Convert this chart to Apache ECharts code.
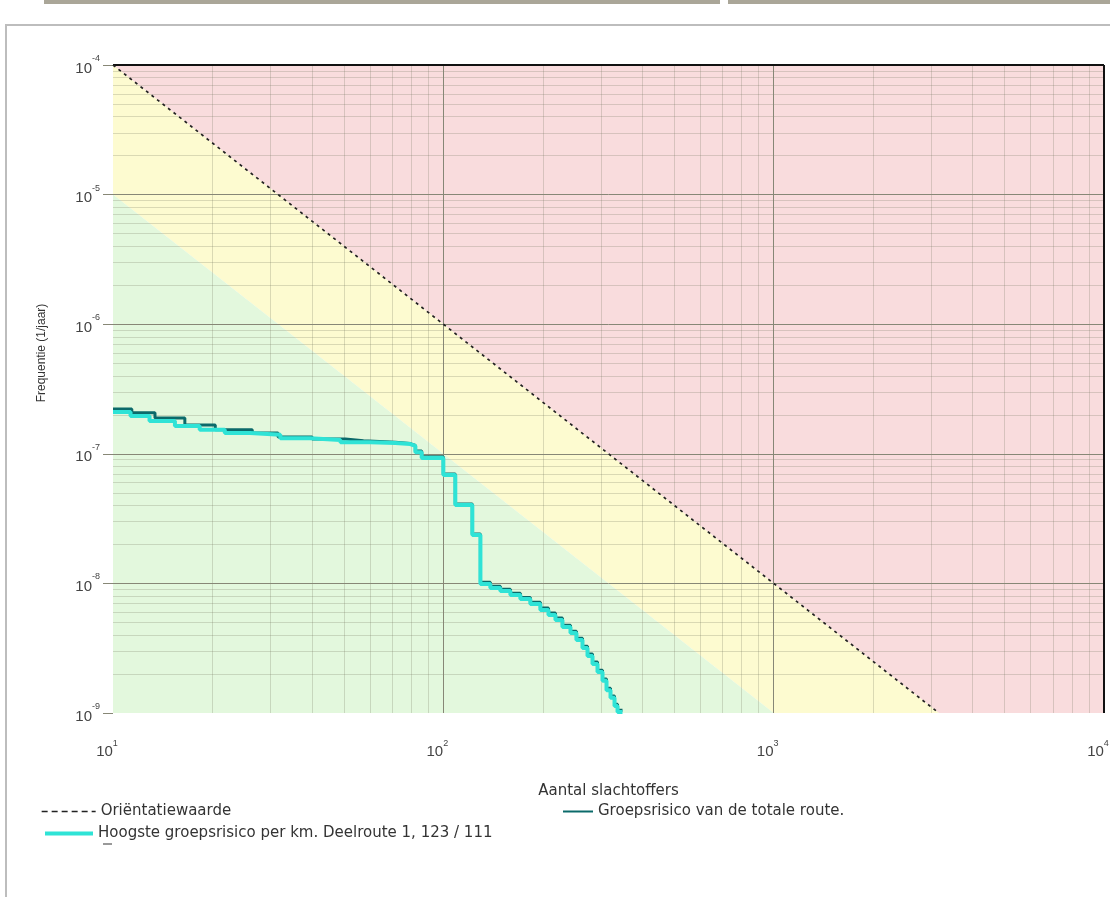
<!DOCTYPE html>
<html>
<head>
<meta charset="utf-8">
<script src="https://cdn.jsdelivr.net/npm/echarts@6/dist/echarts.min.js"></script>
<style>
html,body{margin:0;padding:0;background:#fff;}
#chart{width:1110px;height:897px;}
</style>
</head>
<body>
<div id="chart"></div>
<script>
// ---- data ----
const orientN = [10, 100, 1000, 3162.3];
const orientF = [1e-4, 1e-6, 1e-8, 1e-9];

const cyanN = [10, 11.3, 12.9, 15.4, 18.3, 21.8, 26.0, 32.1, 39.5, 48.8, 60.1, 71.5, 79.4, 82.3, 86.0, 100, 108.7, 122.4, 129.5,
  138.8, 148.8, 159.6, 171.1, 183.4, 196.7, 208.1, 218.5, 229.4, 242.6, 252.9, 263.8, 273.2, 282.9, 292.9, 303.3, 311.9, 320.7, 329.8, 336.8, 348.6];
const cyanF = [2.10e-7, 1.96e-7, 1.79e-7, 1.64e-7, 1.53e-7, 1.45e-7, 1.40e-7, 1.32e-7, 1.28e-7, 1.23e-7, 1.21e-7, 1.19e-7, 1.15e-7, 1.03e-7, 9.3e-8, 6.86e-8, 4.03e-8, 2.36e-8, 9.9e-9,
  9.22e-9, 8.74e-9, 8.14e-9, 7.58e-9, 6.93e-9, 6.23e-9, 5.70e-9, 5.22e-9, 4.61e-9, 4.14e-9, 3.66e-9, 3.17e-9, 2.75e-9, 2.39e-9, 2.07e-9, 1.77e-9, 1.50e-9, 1.31e-9, 1.13e-9, 1.02e-9, 1.02e-9];

const darkN = [10, 11.4, 13.4, 16.5, 20.4, 26.4, 31.6, 40.1, 50.5, 57.3, 71.5, 79.4, 82.3, 86.0, 100, 108.7, 122.4, 129.5,
  138.8, 148.8, 159.6, 171.1, 183.4, 196.7, 208.1, 218.5, 229.4, 242.6, 252.9, 263.8, 273.2, 282.9, 292.9, 303.3, 311.9, 320.7, 329.8, 336.8, 348.6];
const darkF = [2.22e-7, 2.07e-7, 1.89e-7, 1.67e-7, 1.53e-7, 1.45e-7, 1.35e-7, 1.30e-7, 1.26e-7, 1.23e-7, 1.20e-7, 1.16e-7, 1.05e-7, 9.5e-8, 7.0e-8, 4.1e-8, 2.4e-8, 1.02e-8,
  9.5e-9, 9.0e-9, 8.4e-9, 7.8e-9, 7.15e-9, 6.45e-9, 5.9e-9, 5.4e-9, 4.75e-9, 4.28e-9, 3.78e-9, 3.28e-9, 2.85e-9, 2.47e-9, 2.14e-9, 1.83e-9, 1.55e-9, 1.35e-9, 1.17e-9, 1.05e-9, 1.05e-9];

// risk zones (polygons in data space)
const redZone = [[10, 1e-4], [1e4, 1e-4], [1e4, 1e-9], [3162.3, 1e-9]];
const yellowZone = [[10, 1e-4], [3162.3, 1e-9], [1000, 1e-9], [10, 1e-5]];
const greenZone = [[10, 1e-5], [1000, 1e-9], [10, 1e-9]];

// axis decades and minor multipliers
const xDecades = [10, 100, 1000, 10000];
const yDecades = [1e-9, 1e-8, 1e-7, 1e-6, 1e-5, 1e-4];
const minorMult = [2, 3, 4, 5, 6, 7, 8, 9];

const seriesNames = {
  orient: 'Oriëntatiewaarde',
  total: 'Groepsrisico van de totale route.',
  km: 'Hoogste groepsrisico per km. Deelroute 1, 123 / 111'
};

// ---- build ----
const majorColor = '#878776';
const minorColor = 'rgba(120,120,95,0.26)';
const gridLines = [];
xDecades.slice(0, -1).forEach(d => minorMult.forEach(m => gridLines.push({xAxis: d * m, lineStyle: {color: minorColor, width: 1, type: 'solid'}})));
yDecades.slice(0, -1).forEach(d => minorMult.forEach(m => gridLines.push({yAxis: d * m, lineStyle: {color: minorColor, width: 1, type: 'solid'}})));
xDecades.slice(1, -1).forEach(d => gridLines.push({xAxis: d, lineStyle: {color: majorColor, width: 1, type: 'solid'}}));
yDecades.slice(1, -1).forEach(d => gridLines.push({yAxis: d, lineStyle: {color: majorColor, width: 1, type: 'solid'}}));
gridLines.push({yAxis: 1e-4, lineStyle: {color: '#111', width: 2, type: 'solid'}});
gridLines.push({xAxis: 1e4, lineStyle: {color: '#111', width: 2, type: 'solid'}});

function zoneSeries(points, color) {
  return {
    type: 'custom', silent: true, z: 1, animation: false,
    data: [[100, 1e-6]],
    renderItem: (params, api) => ({
      type: 'polygon',
      shape: {points: points.map(p => api.coord(p))},
      style: {fill: color}
    })
  };
}

const zip = (a, b) => a.map((v, i) => [v, b[i]]);

function powLabel(v) {
  const e = Math.round(Math.log10(v));
  return '{b|10}{e|' + e + '}';
}

const legendText = {fontFamily: 'DejaVu Sans', fontSize: 15, color: '#333'};

const chart = echarts.init(document.getElementById('chart'), null, {renderer: 'canvas'});
chart.setOption({
  animation: false,
  backgroundColor: '#fff',
  textStyle: {fontFamily: 'DejaVu Sans'},
  grid: {left: 113, top: 65, width: 991, height: 648, containLabel: false, outerBoundsMode: 'none'},
  xAxis: {
    type: 'log', logBase: 10, min: 10, max: 10000,
    name: 'Aantal slachtoffers', nameLocation: 'middle', nameGap: 71,
    nameTextStyle: {fontFamily: 'DejaVu Sans', fontSize: 15, color: '#333'},
    axisLine: {show: false}, axisTick: {show: false}, splitLine: {show: false},
    axisLabel: {
      margin: 26, formatter: powLabel, align: 'center',
      rich: {
        b: {fontFamily: 'Liberation Sans', fontSize: 15, color: '#444', lineHeight: 20, verticalAlign: 'bottom'},
        e: {fontFamily: 'Liberation Sans', fontSize: 9, color: '#444', lineHeight: 20, verticalAlign: 'top', padding: [0, 12, 0, 0]}
      }
    }
  },
  yAxis: {
    type: 'log', logBase: 10, min: 1e-9, max: 1e-4,
    axisLine: {show: false},
    axisTick: {show: true, length: 10, lineStyle: {color: majorColor}},
    splitLine: {show: false},
    axisLabel: {
      margin: 13, formatter: powLabel,
      rich: {
        b: {fontFamily: 'Liberation Sans', fontSize: 15, color: '#444', lineHeight: 22, verticalAlign: 'bottom'},
        e: {fontFamily: 'Liberation Sans', fontSize: 9, color: '#444', lineHeight: 22, verticalAlign: 'top'}
      }
    }
  },
  legend: [
    {data: [seriesNames.orient], left: 36, top: 799, itemWidth: 54, itemHeight: 14,
     itemStyle: {opacity: 0}, lineStyle: {type: [6, 4], width: 1.3, color: '#222'}, textStyle: legendText},
    {data: [seriesNames.total], left: 557, top: 799, itemWidth: 30, itemHeight: 14,
     itemStyle: {opacity: 0}, lineStyle: {width: 2}, textStyle: legendText},
    {data: [seriesNames.km], left: 38, top: 821, itemWidth: 48, itemHeight: 14,
     itemStyle: {opacity: 0}, lineStyle: {width: 4}, textStyle: legendText}
  ],
  graphic: [
    {type: 'rect', shape: {x: 44, y: 0, width: 676, height: 4}, style: {fill: '#aaa698'}},
    {type: 'rect', shape: {x: 728, y: 0, width: 382, height: 4}, style: {fill: '#aaa698'}},
    {type: 'rect', shape: {x: 5, y: 24, width: 1105, height: 2}, style: {fill: '#bdbdbd'}},
    {type: 'rect', shape: {x: 5, y: 24, width: 2, height: 873}, style: {fill: '#bdbdbd'}},
    {type: 'rect', shape: {x: 103, y: 843, width: 9, height: 2}, style: {fill: '#999'}},
    {type: 'text', x: 42, y: 353, rotation: Math.PI / 2,
     style: {text: 'Frequentie (1/jaar)', fontFamily: 'Liberation Sans', fontSize: 12, fill: '#333', align: 'center', verticalAlign: 'middle'}}
  ],
  series: [
    zoneSeries(redZone, '#f9dcdd'),
    zoneSeries(yellowZone, '#fdfbd0'),
    zoneSeries(greenZone, '#e3f8dd'),
    {
      type: 'line', data: [[10, 1e-9]], symbol: 'none', lineStyle: {opacity: 0}, silent: true, z: 2,
      markLine: {silent: true, precision: 20, symbol: ['none', 'none'], label: {show: false}, animation: false, data: gridLines}
    },
    {
      name: seriesNames.orient, type: 'line', data: zip(orientN, orientF), symbol: 'none', z: 5,
      lineStyle: {color: '#222', width: 1.7, type: [3, 4]}, itemStyle: {color: '#222'}
    },
    {
      name: seriesNames.total, type: 'line', data: zip(darkN, darkF), symbol: 'none', step: 'end', z: 6,
      lineStyle: {color: '#0b6a6a', width: 3}, itemStyle: {color: '#0b6a6a'}
    },
    {
      name: seriesNames.km, type: 'line', data: zip(cyanN, cyanF), symbol: 'none', step: 'end', z: 7,
      lineStyle: {color: '#2fe3d6', width: 4}, itemStyle: {color: '#2fe3d6'}
    }
  ]
});
</script>
</body>
</html>
